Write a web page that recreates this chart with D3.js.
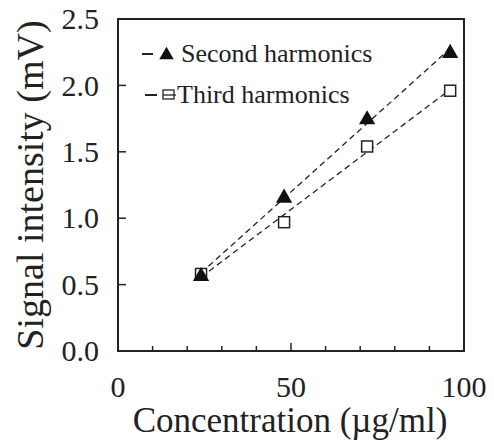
<!DOCTYPE html>
<html>
<head>
<meta charset="utf-8">
<script src="https://cdn.jsdelivr.net/npm/d3@7"></script>
<style>
    body { margin: 0; background: #fff; }
    text { font-family: "Liberation Serif", "Times New Roman", serif; fill: #222; }
</style>
</head>
<body>
<div id="chart"></div>
<script>

// concentration (ug/ml)
const concentration = [24, 48, 72, 96];
const secondHarmonics = [0.57, 1.16, 1.75, 2.25];
const thirdHarmonics = [0.58, 0.97, 1.54, 1.96];

const xTicks = [0, 50, 100];
const yTicks = [0, 0.5, 1.0, 1.5, 2.0, 2.5];

const width = 494, height = 443;
const margin = {top: 19, right: 30, bottom: 92, left: 118};

const svg = d3.select("#chart").append("svg")
    .attr("width", width)
    .attr("height", height);

const x = d3.scaleLinear().domain([0, 100]).range([margin.left, width - margin.right]);
const y = d3.scaleLinear().domain([0, 2.5]).range([height - margin.bottom, margin.top]);

// least squares fit, used for the dashed trend lines
function fit(xs, ys) {
    let mx = d3.mean(xs), my = d3.mean(ys);
    let num = 0, den = 0;
    xs.forEach((v, i) => {
        num += (v - mx) * (ys[i] - my);
        den += (v - mx) * (v - mx);
    });
    let slope = num / den;
    return v => my + slope * (v - mx);
}

const plot = svg.append("g").attr("class", "plot");

// trend lines
[secondHarmonics, thirdHarmonics].forEach(vals => {
    let f = fit(concentration, vals);
    let x0 = d3.min(concentration), x1 = d3.max(concentration);
    plot.append("line")
        .attr("x1", x(x0)).attr("y1", y(f(x0)))
        .attr("x2", x(x1)).attr("y2", y(f(x1)))
        .attr("stroke", "#222")
        .attr("stroke-width", 1.3)
        .attr("stroke-dasharray", "6,4");
});

// third harmonics: open squares
const sq = 11;
plot.selectAll(".third")
    .data(concentration.map((c, i) => ({x: c, y: thirdHarmonics[i]})))
    .enter().append("rect")
    .attr("class", "third")
    .attr("x", d => x(d.x) - sq / 2)
    .attr("y", d => y(d.y) - sq / 2)
    .attr("width", sq)
    .attr("height", sq)
    .attr("fill", "#fff")
    .attr("stroke", "#222")
    .attr("stroke-width", 1.5);

// second harmonics: filled triangles
const tri = d3.symbol().type(d3.symbolTriangle).size(115);
plot.selectAll(".second")
    .data(concentration.map((c, i) => ({x: c, y: secondHarmonics[i]})))
    .enter().append("path")
    .attr("class", "second")
    .attr("d", tri)
    .attr("transform", d => `translate(${x(d.x)},${y(d.y) + 1})`)
    .attr("fill", "#111");

// frame
const x0 = x(0), x1 = x(100), y0 = y(0), y1 = y(2.5);
svg.append("rect")
    .attr("x", x0).attr("y", y1)
    .attr("width", x1 - x0).attr("height", y0 - y1)
    .attr("fill", "none")
    .attr("stroke", "#222")
    .attr("stroke-width", 2);

// inward ticks
svg.append("g").selectAll("line")
    .data(d3.range(10, 100, 10))
    .enter().append("line")
    .attr("x1", d => x(d)).attr("x2", d => x(d))
    .attr("y1", y0).attr("y2", d => y0 - (d === 50 ? 8 : 5))
    .attr("stroke", "#222").attr("stroke-width", 1.5);

svg.append("g").selectAll("line")
    .data(yTicks.slice(1, -1))
    .enter().append("line")
    .attr("x1", x0).attr("x2", x0 + 8)
    .attr("y1", d => y(d)).attr("y2", d => y(d))
    .attr("stroke", "#222").attr("stroke-width", 1.5);

// tick labels
svg.append("g").selectAll("text")
    .data(yTicks)
    .enter().append("text")
    .attr("x", x0 - 19)
    .attr("y", d => y(d))
    .attr("dy", "0.34em")
    .attr("text-anchor", "end")
    .attr("font-size", 30)
    .text(d => d.toFixed(1));

svg.append("g").selectAll("text")
    .data(xTicks)
    .enter().append("text")
    .attr("x", d => x(d))
    .attr("y", 397)
    .attr("text-anchor", "middle")
    .attr("font-size", 30)
    .text(d => d);

// axis titles
svg.append("text")
    .attr("x", 290)
    .attr("y", 432)
    .attr("text-anchor", "middle")
    .attr("font-size", 35)
    .text("Concentration (\u00b5g/ml)");

svg.append("text")
    .attr("transform", `translate(43,185) rotate(-90)`)
    .attr("text-anchor", "middle")
    .attr("font-size", 38)
    .text("Signal intensity (mV)");

// legend
const legend = svg.append("g");
const rows = [
    {label: "Second harmonics", ly: 54, type: "tri"},
    {label: "Third harmonics", ly: 95, type: "sq"}
];
rows.forEach(r => {
    legend.append("line")
        .attr("x1", r.type === "tri" ? 142 : 145).attr("x2", r.type === "tri" ? 153 : 157)
        .attr("y1", r.ly).attr("y2", r.ly)
        .attr("stroke", "#222").attr("stroke-width", 2);
    if (r.type === "tri") {
        legend.append("path")
            .attr("d", d3.symbol().type(d3.symbolTriangle).size(90))
            .attr("transform", `translate(166.5,${r.ly + 1})`)
            .attr("fill", "#111");
    } else {
        legend.append("rect")
            .attr("x", 163).attr("y", r.ly - 5)
            .attr("width", 11).attr("height", 9)
            .attr("fill", "#fff").attr("stroke", "#222").attr("stroke-width", 1.3);
        legend.append("line")
            .attr("x1", 163).attr("x2", 176)
            .attr("y1", r.ly).attr("y2", r.ly)
            .attr("stroke", "#222").attr("stroke-width", 1.3);
    }
    legend.append("text")
        .attr("x", r.type === "tri" ? 181 : 177)
        .attr("y", r.ly + 8)
        .attr("font-size", 26)
        .text(r.label);
});

</script>
</body>
</html>
